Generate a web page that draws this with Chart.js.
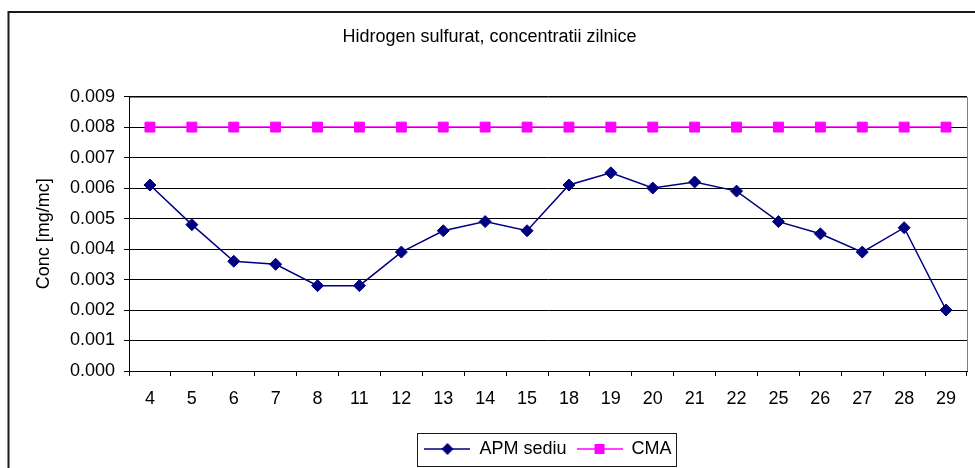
<!DOCTYPE html>
<html>
<head>
<meta charset="utf-8">
<script src="https://cdn.jsdelivr.net/npm/chart.js@4/dist/chart.umd.min.js"></script>
<style>
  html, body { margin: 0; padding: 0; background: #fff; }
  #wrap { width: 975px; height: 468px; }
</style>
</head>
<body>
<div id="wrap"><canvas id="chart" width="975" height="468"></canvas></div>
<script>
// Data
const days = ["4", "5", "6", "7", "8", "11", "12", "13", "14", "15",
  "18", "19", "20", "21", "22", "25", "26", "27", "28", "29"];
const apmSediu = [0.0061, 0.0048, 0.0036, 0.0035, 0.0028, 0.0028, 0.0039, 0.0046, 0.0049, 0.0046,
  0.0061, 0.0065, 0.0060, 0.0062, 0.0059, 0.0049, 0.0045, 0.0039, 0.0047, 0.0020];
const cma = [0.008, 0.008, 0.008, 0.008, 0.008, 0.008, 0.008, 0.008, 0.008, 0.008,
  0.008, 0.008, 0.008, 0.008, 0.008, 0.008, 0.008, 0.008, 0.008, 0.008];
const yMin = 0, yMax = 0.009, yStep = 0.001;

const FONT = '"Liberation Sans", Arial, sans-serif';
const NAVY = "#000080";
const MAGENTA = "#FF00FF";

// Legend symbols: short line with marker in the middle
function legendSymbol(color, shape) {
  const c = document.createElement("canvas");
  c.width = 46; c.height = 14;
  const g = c.getContext("2d");
  g.strokeStyle = color; g.fillStyle = color; g.lineWidth = 1.5;
  g.beginPath(); g.moveTo(0, 7); g.lineTo(46, 7); g.stroke();
  g.beginPath();
  if (shape === "diamond") {
    g.moveTo(23, 1); g.lineTo(29, 7); g.lineTo(23, 13); g.lineTo(17, 7);
  } else {
    g.rect(18, 2, 10, 10);
  }
  g.fill();
  return c;
}
const symbols = [legendSymbol(NAVY, "diamond"), legendSymbol(MAGENTA, "square")];

// Frame, plot border and legend box
const framePlugin = {
  id: "frame",
  beforeDraw(chart) {
    const { ctx, chartArea: a } = chart;
    ctx.save();
    ctx.strokeStyle = "#1a1a1a";
    ctx.lineWidth = 2;
    ctx.strokeRect(8.5, 12, 980, 470);
    ctx.strokeStyle = "#808080";
    ctx.lineWidth = 1;
    ctx.strokeRect(Math.round(a.left) + 0.5, Math.round(a.top) + 0.5,
      Math.round(a.right - a.left), Math.round(a.bottom - a.top));
    ctx.restore();
  },
  afterDraw(chart) {
    const boxes = chart.legend.legendHitBoxes;
    if (!boxes || !boxes.length) return;
    const left = Math.min(...boxes.map((b) => b.left)) - 7;
    const right = Math.max(...boxes.map((b) => b.left + b.width)) + 5;
    const ctx = chart.ctx;
    ctx.save();
    ctx.strokeStyle = "#1a1a1a";
    ctx.lineWidth = 1;
    ctx.strokeRect(Math.round(left) + 0.5, 433.5, Math.round(right - left), 33);
    ctx.restore();
  },
};

new Chart(document.getElementById("chart"), {
  type: "line",
  data: {
    labels: days,
    datasets: [
      {
        label: "APM sediu",
        data: apmSediu,
        borderColor: NAVY,
        backgroundColor: NAVY,
        borderWidth: 1.5,
        pointStyle: "rectRot",
        pointRadius: 6,
        pointBorderWidth: 1,
        tension: 0,
      },
      {
        label: "CMA",
        data: cma,
        borderColor: MAGENTA,
        backgroundColor: MAGENTA,
        borderWidth: 1.5,
        pointStyle: "rect",
        pointRadius: 7,
        pointBorderWidth: 1,
        tension: 0,
      },
    ],
  },
  options: {
    responsive: false,
    animation: false,
    layout: { padding: { left: 10, right: 6, top: 0, bottom: 0 } },
    plugins: {
      title: {
        display: true,
        text: "Hidrogen sulfurat, concentratii zilnice",
        color: "#000",
        font: { family: FONT, size: 18, weight: "normal" },
        padding: { top: 26, bottom: 49 },
      },
      legend: {
        position: "bottom",
        fullSize: false,
        labels: {
          color: "#000",
          font: { family: FONT, size: 18 },
          usePointStyle: true,
          pointStyleWidth: 46,
          padding: 10,
          generateLabels: (chart) =>
            chart.data.datasets.map((ds, i) => ({
              text: ds.label,
              pointStyle: symbols[i],
              fillStyle: ds.backgroundColor,
              strokeStyle: ds.borderColor,
              lineWidth: 0,
              datasetIndex: i,
              fontColor: "#000",
            })),
        },
      },
      tooltip: { enabled: false },
    },
    scales: {
      x: {
        offset: true,
        grid: { offset: true, drawOnChartArea: false, tickLength: 5, color: "#000" },
        border: { color: "#000", width: 1 },
        ticks: { color: "#000", font: { family: FONT, size: 18 }, padding: 12, maxRotation: 0, autoSkip: false },
        afterFit: (s) => { s.height = 59; },
      },
      y: {
        min: yMin,
        max: yMax,
        grid: { color: "#000", tickLength: 5 },
        border: { color: "#000", width: 1 },
        ticks: {
          stepSize: yStep,
          color: "#000",
          font: { family: FONT, size: 18 },
          padding: 9,
          callback: (v) => Number(v).toFixed(3),
        },
        title: {
          display: true,
          text: "Conc [mg/mc]",
          color: "#000",
          font: { family: FONT, size: 18 },
          padding: { top: 23, bottom: 0 },
        },
        afterFit: (s) => { s.width = 119; },
      },
    },
  },
  plugins: [framePlugin],
});
</script>
</body>
</html>
